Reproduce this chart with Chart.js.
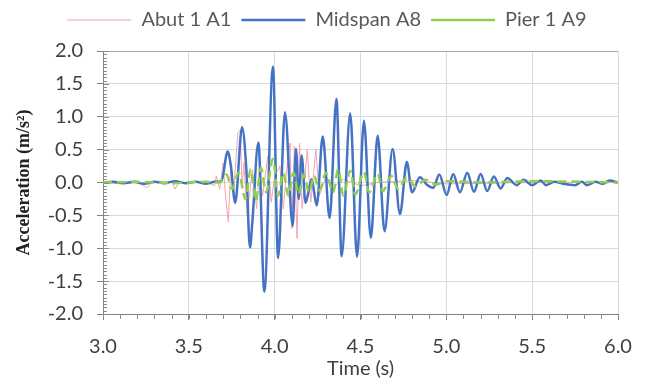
<!DOCTYPE html>
<html>
<head>
<meta charset="utf-8">
<title>Acceleration</title>
<script src="https://cdn.jsdelivr.net/npm/chart.js@4.4.0/dist/chart.umd.min.js"></script>
<style>
  html, body { margin: 0; padding: 0; background: #fff; }
</style>
</head>
<body>
<canvas id="accelChart" width="650" height="385"></canvas>
<script>
  "use strict";

  // Midspan A8 (blue) - peaks and troughs
  var midTime = [3.00, 3.06, 3.12, 3.18, 3.24, 3.30, 3.36, 3.42, 3.48, 3.54, 3.60, 3.65, 3.69,
    3.726, 3.745, 3.77, 3.81, 3.835, 3.856, 3.87, 3.905, 3.94, 3.99, 4.02, 4.06, 4.105, 4.124,
    4.14, 4.157, 4.18, 4.215, 4.245, 4.28, 4.32, 4.36, 4.39, 4.44, 4.48, 4.52, 4.56, 4.60, 4.64,
    4.687, 4.73, 4.77, 4.80, 4.846, 4.885, 4.924, 4.959, 5.002, 5.04, 5.079, 5.122, 5.161, 5.20,
    5.238, 5.277, 5.316, 5.355, 5.41, 5.45, 5.50, 5.55, 5.58, 5.63, 5.68, 5.75, 5.79, 5.82, 5.87,
    5.91, 5.95, 6.00];
  var midAccel = [0.00, 0.01, -0.01, 0.01, -0.02, 0.01, -0.01, 0.02, -0.01, 0.01, -0.02, 0.01, 0.02,
    0.47, 0.25, -0.31, 0.84, 0.20, -0.99, -0.60, 0.61, -1.66, 1.76, -1.15, 1.07, -0.66, 0.51,
    -0.25, 0.41, -0.31, 0.05, -0.35, 0.70, -0.54, 1.27, -1.12, 1.05, -1.13, 0.94, -0.84, 0.71, -0.74,
    0.51, -0.48, 0.31, -0.15, 0.08, -0.03, -0.08, 0.12, -0.19, 0.13, -0.15, 0.15, -0.14, 0.13,
    -0.13, 0.09, -0.09, 0.07, -0.04, 0.04, -0.04, 0.03, -0.04, 0.01, -0.02, -0.04, 0.01, -0.04, 0.01,
    -0.02, 0.03, 0.00];

  // Abut 1 A1 (pink) - spiky record
  var abutTime = [3.00, 3.10, 3.20, 3.26, 3.28, 3.40, 3.42, 3.44, 3.60, 3.65, 3.66, 3.68, 3.70,
    3.715, 3.73, 3.745, 3.76, 3.785, 3.80, 3.81, 3.82, 3.84, 3.87, 3.895, 3.91, 3.93, 3.96, 3.98,
    4.00, 4.03, 4.05, 4.07, 4.09, 4.10, 4.115, 4.13, 4.145, 4.16, 4.19, 4.21, 4.24, 4.26, 4.30,
    4.33, 4.40, 4.50, 4.60, 4.80, 5.00, 5.50, 6.00];
  var abutAccel = [0.00, -0.02, 0.00, -0.08, 0.00, 0.01, -0.10, 0.00, 0.01, -0.05, 0.10, -0.10, 0.30,
    -0.25, -0.60, 0.30, -0.20, 0.75, 0.80, -0.10, 0.30, -0.50, 0.20, -0.40, 0.20, -0.20, 0.40, -0.30,
    0.10, 0.25, -0.40, 0.20, 0.60, -0.70, 0.55, -0.85, 0.60, -0.40, 0.50, -0.30, 0.50, -0.20, 0.10,
    -0.10, 0.05, -0.05, 0.00, 0.03, -0.02, 0.00, 0.00];

  // Pier 1 A9 (green dashed)
  var pierTime = [3.00, 3.20, 3.40, 3.60, 3.68, 3.72, 3.75, 3.79, 3.83, 3.86, 3.89, 3.92, 3.95,
    3.99, 4.02, 4.05, 4.08, 4.11, 4.14, 4.17, 4.20, 4.23, 4.26, 4.30, 4.34, 4.37, 4.40, 4.44, 4.47,
    4.52, 4.55, 4.60, 4.63, 4.68, 4.72, 4.77, 4.82, 4.88, 4.94, 5.00, 5.20, 5.50, 6.00];
  var pierAccel = [0.00, 0.01, -0.01, 0.01, 0.00, 0.12, -0.10, 0.15, -0.25, 0.20, -0.28, 0.22, -0.15,
    0.36, -0.20, 0.15, -0.20, 0.15, -0.18, 0.12, -0.15, 0.10, -0.12, 0.15, -0.15, 0.20, -0.20, 0.18,
    -0.18, 0.16, -0.15, 0.13, -0.13, 0.10, -0.10, 0.08, -0.06, 0.04, -0.03, 0.02, 0.00, 0.02, 0.00];

  var seriesNames = ["Abut 1 A1", "Midspan A8", "Pier 1 A9"];

  function toPoints(xs, ys) {
    return xs.map(function (x, i) { return { x: x, y: ys[i] }; });
  }

  var sansFont = "Lato, 'Open Sans', sans-serif";

  // extra room between legend and plot, legend nudged right like the original
  var legendGap = {
    id: "legendGap",
    beforeLayout: function (chart) {
      var legend = chart.legend;
      if (legend && !legend._gapPatched) {
        var fit = legend.fit;
        legend.fit = function () {
          fit.call(this);
          this.height += 11;
        };
        legend._gapPatched = true;
      }
    },
    afterLayout: function (chart) {
      if (chart.legend) chart.legend.left += 36;
    },
  };

  // minor tick marks (Excel style) drawn through the chart scales
  var minorTicks = {
    id: "minorTicks",
    afterDraw: function (chart) {
      var ctx = chart.ctx;
      var area = chart.chartArea;
      var xs = chart.scales.x;
      var ys = chart.scales.y;
      ctx.save();
      ctx.strokeStyle = "#8c8c8c";
      ctx.lineWidth = 1;
      ctx.beginPath();
      var i, p;
      // x: every 0.1 s, hanging below the axis
      for (i = 0; i <= 30; i++) {
        p = Math.round(xs.getPixelForValue(3 + i / 10)) + 0.5;
        ctx.moveTo(p, area.bottom);
        ctx.lineTo(p, area.bottom + 5);
      }
      // y: every 0.05, inside the plot
      for (i = 0; i <= 80; i++) {
        p = Math.round(ys.getPixelForValue(-2 + i / 20)) + 0.5;
        ctx.moveTo(area.left, p);
        ctx.lineTo(area.left + (i % 10 === 0 ? 6 : 4), p);
      }
      ctx.stroke();
      ctx.restore();
    },
  };

  var ctx = document.getElementById("accelChart").getContext("2d");

  new Chart(ctx, {
    type: "line",
    data: {
      datasets: [
        {
          label: seriesNames[0],
          data: toPoints(abutTime, abutAccel),
          borderColor: "#f4a3ad",
          borderWidth: 1,
          tension: 0,
          pointRadius: 0,
          order: 3,
        },
        {
          label: seriesNames[1],
          data: toPoints(midTime, midAccel),
          borderColor: "#4472c4",
          borderWidth: 2.5,
          cubicInterpolationMode: "monotone",
          pointRadius: 0,
          order: 2,
        },
        {
          label: seriesNames[2],
          data: toPoints(pierTime, pierAccel),
          borderColor: "#8fcf4f",
          borderWidth: 2.5,
          borderDash: [9, 5],
          cubicInterpolationMode: "monotone",
          pointRadius: 0,
          order: 1,
        },
      ],
    },
    options: {
      responsive: false,
      animation: false,
      layout: { padding: { top: 0, right: 32, bottom: 0, left: 0 } },
      plugins: {
        tooltip: { enabled: false },
        legend: {
          position: "top",
          labels: {
            usePointStyle: true,
            pointStyle: "line",
            pointStyleWidth: 64,
            color: "#595959",
            font: { family: sansFont, size: 20 },
            padding: 10,
            sort: function (a, b) { return a.datasetIndex - b.datasetIndex; },
          },
        },
      },
      scales: {
        x: {
          type: "linear",
          min: 3,
          max: 6,
          afterFit: function (scale) { scale.height = 71; },
          border: { color: "#808080", width: 1 },
          grid: {
            color: "#d9d9d9",
            tickColor: "#808080",
            tickLength: 6,
          },
          ticks: {
            stepSize: 0.5,
            padding: 15,
            color: "#404040",
            font: { family: sansFont, size: 20 },
            maxRotation: 0,
            callback: function (v) { return v.toFixed(1); },
          },
          title: {
            display: true,
            text: "Time (s)",
            color: "#404040",
            font: { family: sansFont, size: 20 },
            padding: { top: 0, bottom: 4 },
          },
        },
        y: {
          min: -2,
          max: 2,
          afterFit: function (scale) { scale.width = 103; },
          border: { color: "#808080", width: 1 },
          grid: {
            color: function (c) { return c.tick && c.tick.value === 2 ? "#a6a6a6" : "#d9d9d9"; },
            tickColor: "#808080",
            tickLength: 6,
          },
          ticks: {
            stepSize: 0.5,
            padding: 14,
            color: "#404040",
            font: { family: sansFont, size: 20 },
            callback: function (v) { return v.toFixed(1); },
          },
          title: {
            display: true,
            text: "Acceleration (m/s\u00B2)",
            color: "#222222",
            font: { family: "'Liberation Serif', serif", size: 18, weight: "bold" },
            padding: { top: 14, bottom: 0 },
          },
        },
      },
    },
    plugins: [legendGap, minorTicks],
  });
</script>
</body>
</html>
